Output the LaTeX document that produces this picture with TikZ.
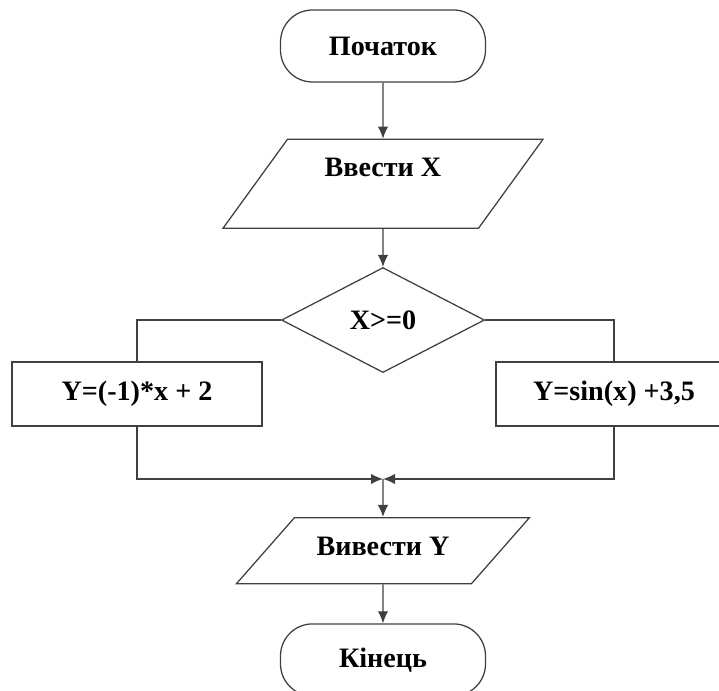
\documentclass[tikz,border=0pt]{standalone}
\usepackage{fontspec}
\setmainfont{Liberation Serif}
\usepackage{tikz}
\usetikzlibrary{positioning}
\usetikzlibrary{shapes.geometric}
\usetikzlibrary{arrows.meta}

\begin{document}
\begin{tikzpicture}[
    font=\fontsize{20}{24}\selectfont\bfseries,
    line width=0.9pt,
    >={Latex[length=0.3cm,width=0.26cm]},
    link/.style={draw=black!75},
    terminal/.style={draw=black!75, rectangle, rounded corners=0.8cm, minimum width=5.125cm, minimum height=1.8cm},
    inout/.style={draw=black!75, trapezium, trapezium stretches body=true, inner sep=1pt},
    decision/.style={draw=black!75, diamond, aspect=2, inner sep=0pt, minimum width=5.075cm, minimum height=2.625cm},
    process/.style={draw=black!75, rectangle, minimum width=6.25cm, minimum height=1.6cm}
  ]

  \useasboundingbox (0,0) rectangle (17.975,-17.275);

  % Define nodes
  \node[terminal] (start) at (9.575,-1.15) {Початок};
  \node[inout, trapezium left angle=54, trapezium right angle=126,
        text height=0.89cm, text depth=1.26cm,
        minimum width=8cm, minimum height=2.225cm, below=1.4cm of start] (in) {Ввести X};
  \node[decision, below=0.95cm of in] (cond) {X>=0};
  \node[process] (lbox) at (3.425,-9.85) {Y=(-1)*x + 2};
  \node[process, minimum width=5.9cm] (rbox) at (15.35,-9.85) {Y=sin(x) +3,5};
  \coordinate (join) at (9.575,-11.975);
  \node[inout, trapezium left angle=48.7, trapezium right angle=131.3,
        text height=0.915cm, text depth=0.665cm,
        minimum width=7.325cm, minimum height=1.65cm, below=0.95cm of join] (out) {Вивести Y};
  \node[terminal, below=0.975cm of out] (end) {Кінець};

  % Connect nodes
  \draw[link, ->] (start) -- (in);
  \draw[link, ->] (in) -- (cond);
  \draw[link] (cond.west) -| (lbox.north);
  \draw[link] (cond.east) -| (rbox.north);
  \draw[link, ->] (lbox.south) |- (join);
  \draw[link, ->] (rbox.south) |- (join);
  \draw[link, ->] (join) -- (out);
  \draw[link, ->] (out) -- (end);

\end{tikzpicture}
\end{document}
